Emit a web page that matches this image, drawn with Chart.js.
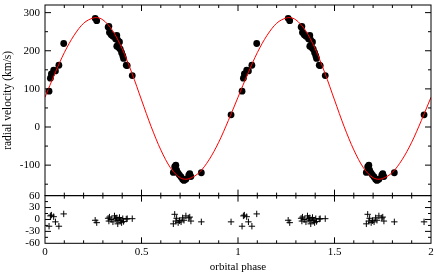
<!DOCTYPE html>
<html>
<head>
<meta charset="utf-8">
<script src="https://cdn.jsdelivr.net/npm/chart.js@4/dist/chart.umd.min.js"></script>
<style>
  html, body { margin: 0; padding: 0; background: #fff; }
  #wrap { width: 436px; height: 274px; }
</style>
</head>
<body>
<div id="wrap"><canvas id="rvChart" width="436" height="274"></canvas></div>
<script>
// measured radial velocities (one orbital cycle, plotted twice)
var obsPhase = [0.021, 0.028, 0.033, 0.045, 0.054, 0.072, 0.097,
                0.260, 0.268,
                0.327, 0.331, 0.334, 0.343, 0.352, 0.360, 0.366, 0.372, 0.377, 0.372,
                0.383, 0.386, 0.390, 0.397, 0.403, 0.407, 0.421, 0.426, 0.452,
                0.665, 0.672, 0.678, 0.682, 0.690, 0.697, 0.705, 0.713, 0.720, 0.730,
                0.745, 0.750, 0.756, 0.810,
                0.964];
var obsRv = [94, 128, 139, 149, 147, 162, 219,
             285, 279,
             262, 264, 248, 242, 238, 238, 231, 240, 228, 212,
             208, 223, 204, 195, 187, 180, 162, 161, 135,
             -119, -104, -100, -113, -121, -126, -131, -137, -140, -137,
             -126, -122, -130, -120,
             32];
var obsResid = [-17, 9, 11, 7, -6, -17, 14,
                -2, -8,
                3, -4, 6, 0, -6, 9, 3, -2, -11, 4,
                -1, 5, -3, -8, 2, -5, 1, 2, 2,
                -11, 13, -4, 3, -8, -3, -6, 4, -2, 9,
                4, 6, -4, -6,
                -6];

// orbit fit
var fitPhase = [0, 0.05, 0.10, 0.15, 0.20, 0.25, 0.265, 0.30, 0.35, 0.40, 0.45, 0.50,
                0.55, 0.60, 0.65, 0.70, 0.73, 0.75, 0.80, 0.85, 0.90, 0.95];
var fitRv = [78, 139, 195, 240, 272, 286, 287, 281, 253, 205, 142, 71,
             1, -60, -107, -133, -137, -135, -119, -86, -40, 17];

var xTicks = [0, 0.5, 1, 1.5, 2];
var rvTicks = [-100, 0, 100, 200, 300];
var residTicks = [-60, -30, 0, 30, 60];

var fontFam = "'Liberation Serif', 'Times New Roman', serif";

// fold onto two cycles
function twoCycles(ph, vals) {
    var out = [];
    [0, 1].forEach(function(c) {
        ph.forEach(function(p, i) { out.push({x: p + c, y: vals[i]}); });
    });
    return out;
}
var fitPts = twoCycles(fitPhase, fitRv);
fitPts.push({x: 2, y: fitRv[0]});

function fixedTicks(list) {
    return function(s) { s.ticks = list.map(function(v) { return {value: v}; }); };
}
function noPad(s) {
    s.paddingTop = 0; s.paddingBottom = 0; s.paddingLeft = 0; s.paddingRight = 0;
}

// inward ticks and frame, the way the original plotting package draws them
var framePlugin = {
    id: 'frame',
    afterDatasetsDraw: function(chart) {
        var ctx = chart.ctx, x = chart.scales.x, y = chart.scales.y, y2 = chart.scales.y2;
        ctx.save();
        ctx.strokeStyle = '#000';
        ctx.lineWidth = 1;
        [y, y2].forEach(function(s) {
            ctx.strokeRect(x.left, s.top, x.right - x.left, s.bottom - s.top);
        });
        ctx.beginPath();
        // x ticks on all four horizontal edges
        for (var k = 1; k < 20; k++) {
            var px = x.getPixelForValue(k / 10);
            var len = (k % 5 === 0) ? 6 : 3;
            [y, y2].forEach(function(s) {
                ctx.moveTo(px, s.top); ctx.lineTo(px, s.top + len);
                ctx.moveTo(px, s.bottom); ctx.lineTo(px, s.bottom - len);
            });
        }
        // y ticks, top panel
        for (var v1 = -150; v1 <= 300; v1 += 50) {
            var py = y.getPixelForValue(v1);
            var l1 = (v1 % 100 === 0) ? 6 : 3;
            ctx.moveTo(x.left, py); ctx.lineTo(x.left + l1, py);
            ctx.moveTo(x.right, py); ctx.lineTo(x.right - l1, py);
        }
        // y ticks, residual panel
        for (var v2 = -45; v2 <= 45; v2 += 15) {
            var py2 = y2.getPixelForValue(v2);
            var l2 = (v2 % 30 === 0) ? 6 : 3;
            ctx.moveTo(x.left, py2); ctx.lineTo(x.left + l2, py2);
            ctx.moveTo(x.right, py2); ctx.lineTo(x.right - l2, py2);
        }
        ctx.stroke();
        ctx.restore();
    }
};

var ctx1 = document.getElementById('rvChart').getContext('2d');
var rvChart = new Chart(ctx1, {
    type: 'scatter',
    data: {
        datasets: [{
            type: 'line',
            data: fitPts,
            borderColor: '#ff0000',
            borderWidth: 1,
            pointRadius: 0,
            fill: false,
            cubicInterpolationMode: 'monotone',
            yAxisID: 'y'
        }, {
            data: twoCycles(obsPhase, obsRv),
            backgroundColor: '#000',
            borderWidth: 0,
            pointRadius: 3.4,
            yAxisID: 'y'
        }, {
            data: twoCycles(obsPhase, obsResid),
            pointStyle: 'cross',
            borderColor: '#000',
            borderWidth: 1,
            pointRadius: 3.2,
            yAxisID: 'y2'
        }]
    },
    options: {
        responsive: false,
        animation: false,
        devicePixelRatio: 1,
        layout: { padding: { left: 0, right: 4, top: 1, bottom: 0 } },
        plugins: { legend: { display: false }, tooltip: { enabled: false } },
        scales: {
            x: {
                type: 'linear', min: 0, max: 2,
                grid: { display: false, drawTicks: false },
                border: { display: false },
                afterBuildTicks: fixedTicks(xTicks),
                afterFit: function(s) { s.height = 30.7; noPad(s); },
                ticks: { color: '#000', padding: 2, maxRotation: 0,
                         callback: function(v) { return String(v); },
                         font: { family: fontFam, size: 11 } },
                title: { display: true, text: 'orbital phase', color: '#000', padding: { top: 0, bottom: 0 },
                         font: { family: fontFam, size: 11 } }
            },
            y: {
                type: 'linear', min: -180, max: 320,
                position: 'left', stack: 'panels', stackWeight: 4, weight: 2,
                grid: { display: false, drawTicks: false },
                border: { display: false },
                afterBuildTicks: fixedTicks(rvTicks),
                afterFit: function(s) { s.width = 45; noPad(s); },
                ticks: { color: '#000', padding: 5, font: { family: fontFam, size: 11 } },
                title: { display: true, text: 'radial velocity (km/s)', color: '#000', padding: { top: 1, bottom: 0 },
                         font: { family: fontFam, size: 11.5 } }
            },
            y2: {
                type: 'linear', min: -60, max: 60,
                position: 'left', stack: 'panels', stackWeight: 1, weight: 1,
                grid: { display: false, drawTicks: false },
                border: { display: false },
                afterBuildTicks: fixedTicks(residTicks),
                afterFit: function(s) { s.width = 45; noPad(s); },
                ticks: { color: '#000', padding: 5, autoSkip: false, font: { family: fontFam, size: 11 } }
            }
        }
    },
    plugins: [framePlugin]
});
</script>
</body>
</html>
